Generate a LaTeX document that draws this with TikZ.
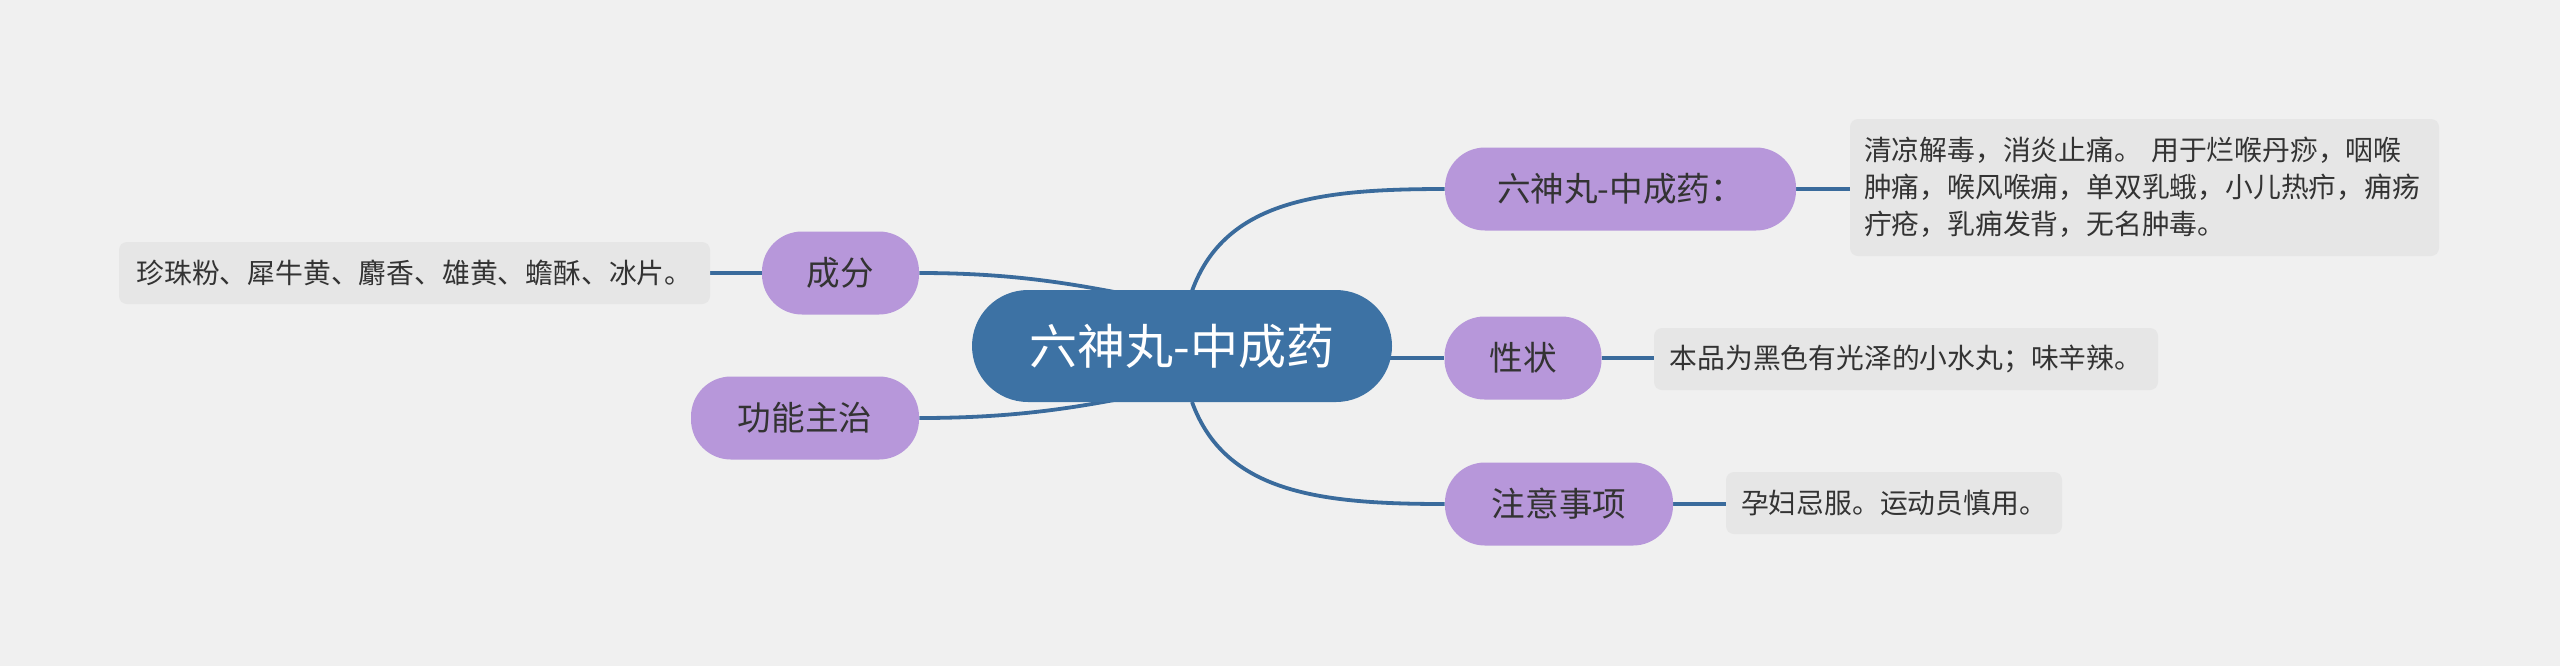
\documentclass[tikz,border=0pt]{standalone}
\usepackage{fontspec}
\newfontfamily\cjk{Noto Sans CJK SC}
\usetikzlibrary{backgrounds}
\definecolor{bgc}{HTML}{F0F0F0}
\definecolor{centc}{HTML}{3D72A4}
\definecolor{subc}{HTML}{B797DA}
\definecolor{detc}{HTML}{E6E6E6}
\definecolor{linec}{HTML}{3A6B9C}
\definecolor{txtc}{HTML}{333333}
\tikzset{
  central/.style={fill=centc, rounded corners=28pt, minimum width=210pt, minimum height=56pt, inner sep=0pt, font=\cjk\fontsize{24}{28}\selectfont, text=white},
  topic/.style={fill=subc, rounded corners=20pt, minimum height=41.5pt, inner sep=0pt, font=\cjk\fontsize{16.8}{20}\selectfont, text=txtc},
  detail/.style={fill=detc, rounded corners=4pt, minimum height=31pt, inner xsep=7pt, inner ysep=0pt, font=\cjk\fontsize{13.9}{18.5}\selectfont, text=txtc, align=left},
  conn/.style={draw=linec, line width=1.9pt}
}
\begin{document}
\begin{tikzpicture}[x=0.5pt, y=-0.5pt]
\useasboundingbox (0,0) rectangle (2560,666);
\node[central] (c) at (1182,346) {六神丸-中成药};
\node[topic, minimum width=175.5pt] (t1) at (1620.5,189) {六神丸-中成药：};
\node[topic, minimum width=78.5pt] (t2) at (1523,358) {性状};
\node[topic, minimum width=114pt] (t3) at (1559,504) {注意事项};
\node[topic, minimum width=78.5pt] (t4) at (840.5,273) {成分};
\node[topic, minimum width=114pt] (t5) at (805,418) {功能主治};
\node[detail, minimum width=294.5pt, minimum height=68.5pt, text width=280.5pt] (d1) at (2144.5,187.5) {清凉解毒，消炎止痛。 用于烂喉丹痧，咽喉\\肿痛，喉风喉痈，单双乳蛾，小儿热疖，痈疡\\疔疮，乳痈发背，无名肿毒。};
\node[detail, minimum width=252pt] (d2) at (1906,359) {本品为黑色有光泽的小水丸；味辛辣。};
\node[detail, minimum width=168pt] (d3) at (1894,503) {孕妇忌服。运动员慎用。};
\node[detail, minimum width=295.5pt] (d4) at (414.5,273) {珍珠粉、犀牛黄、麝香、雄黄、蟾酥、冰片。};
\coordinate (s1) at (1192,291);
\coordinate (s3) at (1192,402);
\coordinate (s4) at (1140,297);
\coordinate (s5) at (1140,395);
\begin{scope}[on background layer]
\fill[bgc] (0,0) rectangle (2560,666);
\draw[conn] (s1) .. controls (1225,200) and (1320,189) .. (t1.west);
\draw[conn] (s3) .. controls (1225,493) and (1320,504) .. (t3.west);
\draw[conn] (t2.west -| c.east) ++(-4,0) -- (t2.west);
\draw[conn] (t4.east) .. controls (1010,273) and (1070,283) .. (s4);
\draw[conn] (t5.east) .. controls (1010,418) and (1070,409) .. (s5);
\draw[conn] (t1.east) -- (d1.west |- t1.east);
\draw[conn] (t2.east) -- (d2.west |- t2.east);
\draw[conn] (t3.east) -- (d3.west |- t3.east);
\draw[conn] (t4.west) -- (d4.east |- t4.west);
\end{scope}
\end{tikzpicture}
\end{document}
